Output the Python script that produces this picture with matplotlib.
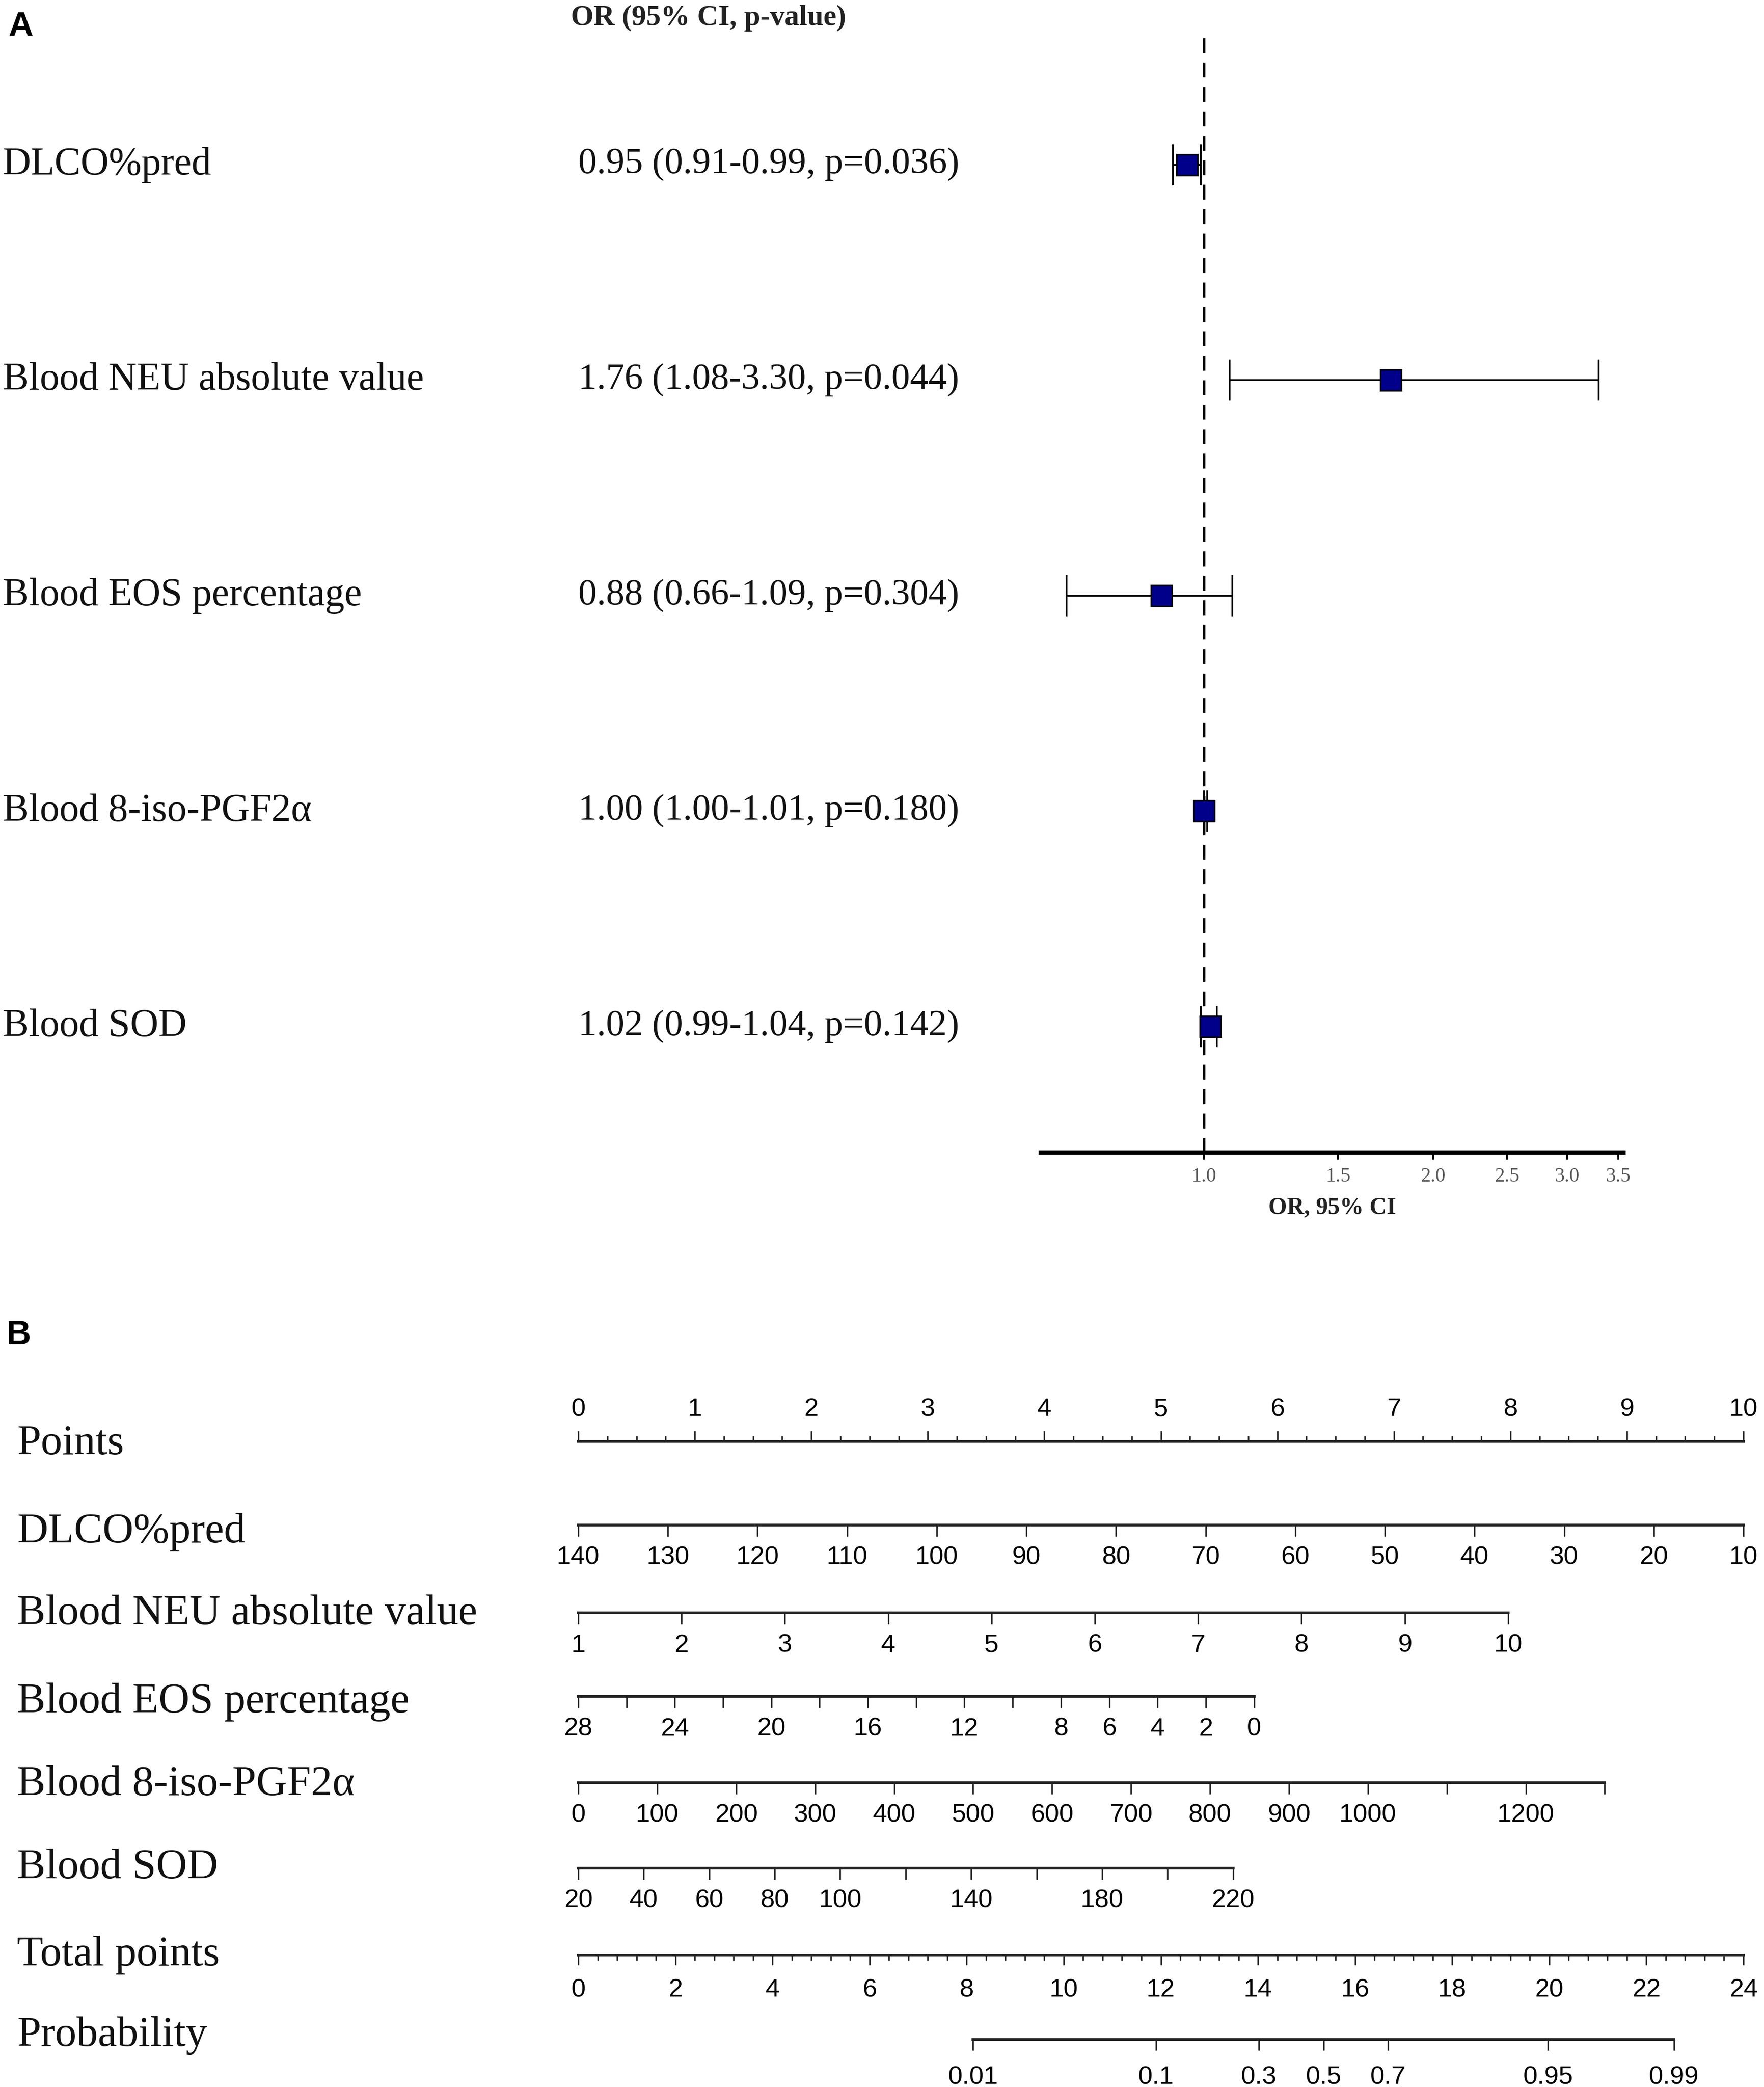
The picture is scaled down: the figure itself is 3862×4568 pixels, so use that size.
import numpy as np
import matplotlib.pyplot as plt
from matplotlib.ticker import FixedLocator, NullLocator, MultipleLocator
from matplotlib.transforms import blended_transform_factory

W, H, DPI = 3862, 4568, 300
SERIF = ['Liberation Serif', 'DejaVu Serif']
SANS = ['Liberation Sans', 'DejaVu Sans']

# ---- panel A: multivariate logistic regression (forest plot) ----
variables = ['DLCO%pred', 'Blood NEU absolute value', 'Blood EOS percentage',
             'Blood 8-iso-PGF2α', 'Blood SOD']
odds_ratio = [0.95, 1.76, 0.88, 1.00, 1.02]
ci_low = [0.91, 1.08, 0.66, 1.00, 0.99]
ci_high = [0.99, 3.30, 1.09, 1.01, 1.04]
p_values = ['0.036', '0.044', '0.304', '0.180', '0.142']
or_ticks = [1.0, 1.5, 2.0, 2.5, 3.0, 3.5]
or_xlim = (0.61, 3.56)

# ---- panel B: nomogram ----
points_ticks = list(range(0, 11))

dlco_ticks = list(range(140, 9, -10))
dlco_labels = [str(v) for v in dlco_ticks]
dlco_scale = (140, 10, 10.0)        # value at 0 points, value at end, points at end

neu_ticks = list(range(1, 11))
neu_labels = [str(v) for v in neu_ticks]
neu_scale = (1, 10, 7.98)

eos_ticks = list(range(28, -1, -2))
eos_labels = ['28', '', '24', '', '20', '', '16', '', '12', '', '8', '6', '4', '2', '0']
eos_scale = (28, 0, 5.80)

pgf_ticks = list(range(0, 1301, 100))
pgf_labels = ['0', '100', '200', '300', '400', '500', '600', '700', '800', '900',
              '1000', '', '1200', '']
pgf_scale = (0, 1300, 8.81)

sod_ticks = list(range(20, 221, 20))
sod_labels = ['20', '40', '60', '80', '100', '', '140', '', '180', '', '220']
sod_scale = (20, 220, 5.62)

total_ticks = list(range(0, 25, 2))
prob_ticks = [0.01, 0.1, 0.3, 0.5, 0.7, 0.95, 0.99]
prob_mid_points = 15.35      # total points where probability = 0.5
prob_points_per_logit = 1.571

nomo_labels = ['Points', 'DLCO%pred', 'Blood NEU absolute value', 'Blood EOS percentage',
               'Blood 8-iso-PGF2α', 'Blood SOD', 'Total points', 'Probability']


def fx(px):
    return px / W


def fy(py):
    return 1 - py / H


fig = plt.figure(figsize=(W / DPI, H / DPI), dpi=DPI)
fig.patch.set_facecolor('white')

# ================= Panel A =================
ax = fig.add_axes([fx(2278), fy(2523), fx(3555) - fx(2278), (2523 - 78) / H])
ypos = np.arange(len(variables), 0, -1)
odds = np.array(odds_ratio)
err = [odds - np.array(ci_low), np.array(ci_high) - odds]

ax.axvline(1.0, color='black', lw=1.2, linestyle=(0, (6.5, 4.2)), zorder=1)
ax.errorbar(odds, ypos, xerr=err, fmt='none', ecolor='black', elinewidth=0.9,
            capsize=10.8, capthick=0.9, zorder=2)
ax.plot(odds, ypos, 's', ms=11.0, mfc='#00008B', mec='black', mew=0.8, zorder=3)

ax.set_xscale('log')
ax.set_xlim(*or_xlim)
ax.set_ylim(0.4146, 5.600)
ax.xaxis.set_major_locator(FixedLocator(or_ticks))
ax.xaxis.set_minor_locator(NullLocator())
ax.set_xticklabels([f'{t:.1f}' for t in or_ticks])
ax.set_yticks([])
for side in ['top', 'right', 'left']:
    ax.spines[side].set_visible(False)
ax.spines['bottom'].set_linewidth(2.0)
ax.tick_params(axis='x', direction='out', length=3.6, width=1.0, pad=4,
               labelsize=10.5, labelcolor='#555555')
for lab in ax.get_xticklabels():
    lab.set_family(SERIF)
ax.set_xlabel('OR, 95% CI', family=SERIF, fontsize=12.5, fontweight='bold',
              color='#222222', labelpad=6)
ax.patch.set_alpha(0)

trans = blended_transform_factory(fig.transFigure, ax.transData)
for y, name, o, lo, hi, p in zip(ypos, variables, odds_ratio, ci_low, ci_high, p_values):
    ax.text(fx(6), y, name, transform=trans, family=SERIF, fontsize=20.6,
            va='center', ha='left', color='#111111')
    ax.text(fx(1266), y, f'{o:.2f} ({lo:.2f}-{hi:.2f}, p={p})', transform=trans,
            family=SERIF, fontsize=19.4, va='center', ha='left', color='#111111')

fig.text(fx(1250), fy(40), 'OR (95% CI, p-value)', family=SERIF, fontsize=15.3,
         fontweight='bold', va='center', ha='left', color='#222222')
fig.text(fx(45), fy(58), 'A', family=SANS, fontsize=18, fontweight='bold',
         va='center', ha='center')

# ================= Panel B =================
fig.text(fx(41), fy(2922), 'B', family=SANS, fontsize=18, fontweight='bold',
         va='center', ha='center')

line_y = [3155, 3338, 3530, 3713, 3902, 4089, 4279, 4464]
label_y = [3160, 3353, 3533, 3725, 3906, 4089, 4279, 4456]
nomo_left, nomo_right = 1266, 3817


def row_axes(y_px, top=False):
    bottom = fy(y_px) - (1 / H if top else 0)
    a = fig.add_axes([fx(nomo_left), bottom, fx(nomo_right) - fx(nomo_left), 1 / H])
    a.patch.set_alpha(0)
    a.set_yticks([])
    for side in ['top', 'bottom', 'left', 'right']:
        a.spines[side].set_visible(False)
    sp = 'top' if top else 'bottom'
    a.spines[sp].set_visible(True)
    a.spines[sp].set_linewidth(1.4)
    a.spines[sp].set_color('#222222')
    return a, sp


def style_ticks(a, pad, length=6.0):
    a.tick_params(axis='x', which='major', direction='out', length=length, width=0.8,
                  pad=pad, labelsize=13.5, color='#222222')
    for lab in a.get_xticklabels():
        lab.set_family(SANS)


# Points
a, sp = row_axes(line_y[0], top=True)
a.set_xlim(0, 10)
a.spines[sp].set_bounds(0, 10)
a.xaxis.set_ticks_position('top')
a.set_xticks(points_ticks, [str(v) for v in points_ticks])
a.xaxis.set_minor_locator(MultipleLocator(0.25))
a.tick_params(axis='x', which='both', top=True, bottom=False, labeltop=True,
              labelbottom=False)
a.tick_params(axis='x', which='minor', direction='out', length=2.9, width=0.8,
              color='#222222')
style_ticks(a, pad=5, length=5.5)

# predictor rows
pred_rows = [(dlco_ticks, dlco_labels, dlco_scale),
             (neu_ticks, neu_labels, neu_scale),
             (eos_ticks, eos_labels, eos_scale),
             (pgf_ticks, pgf_labels, pgf_scale),
             (sod_ticks, sod_labels, sod_scale)]
for (ticks, labels, (v0, v1, pmax)), y in zip(pred_rows, line_y[1:6]):
    a, sp = row_axes(y)
    a.set_xlim(v0, v0 + (v1 - v0) * 10.0 / pmax)
    a.spines[sp].set_bounds(min(v0, v1), max(v0, v1))
    a.set_xticks(ticks, labels)
    style_ticks(a, pad=5, length=6.0)

# Total points
a, sp = row_axes(line_y[6])
a.set_xlim(0, 24)
a.spines[sp].set_bounds(0, 24)
a.set_xticks(total_ticks, [str(v) for v in total_ticks])
a.xaxis.set_minor_locator(MultipleLocator(0.4))
a.tick_params(axis='x', which='minor', direction='out', length=2.9, width=0.8,
              color='#222222')
style_ticks(a, pad=7, length=5.3)

# Probability (logit scale aligned with total points)
a, sp = row_axes(line_y[7])
a.set_xscale('logit')
lo_p = 1 / (1 + np.exp(-(0 - prob_mid_points) / prob_points_per_logit))
hi_p = 1 / (1 + np.exp(-(24 - prob_mid_points) / prob_points_per_logit))
a.set_xlim(lo_p, hi_p)
a.spines[sp].set_bounds(prob_ticks[0], prob_ticks[-1])
a.xaxis.set_major_locator(FixedLocator(prob_ticks))
a.xaxis.set_minor_locator(NullLocator())
a.set_xticklabels([str(v) for v in prob_ticks])
style_ticks(a, pad=8, length=5.8)

for name, y in zip(nomo_labels, label_y):
    fig.text(fx(37), fy(y), name, family=SERIF, fontsize=22.5, va='center',
             ha='left', color='#111111')

fig.savefig('out.png', dpi=DPI, facecolor='white')
